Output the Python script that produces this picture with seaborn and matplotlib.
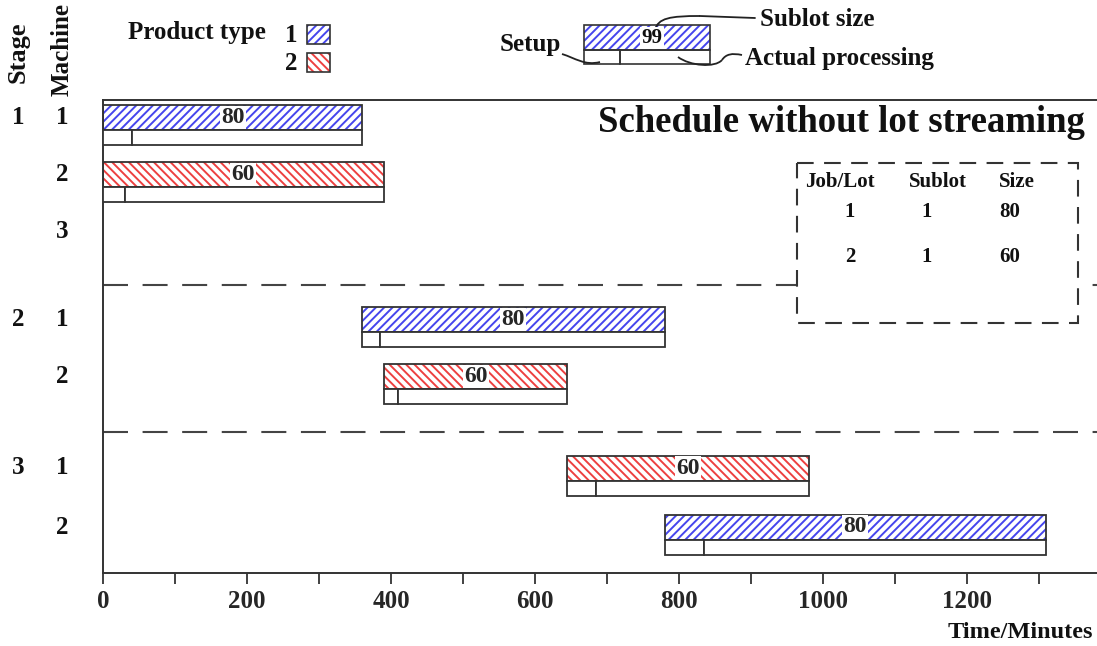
import numpy as np
import matplotlib
matplotlib.use("Agg")
import matplotlib.pyplot as plt
from matplotlib.patches import Rectangle, PathPatch
from matplotlib.path import Path
import seaborn as sns

# ---------------- data ----------------
stages = [1, 1, 2, 2, 3, 3]
machines = [1, 2, 1, 2, 1, 2]
products = [1, 2, 1, 2, 2, 1]
starts = [0, 0, 360, 390, 645, 780]
setup_ends = [40, 30, 385, 410, 685, 835]
ends = [360, 390, 780, 645, 980, 1310]
sizes = [80, 60, 80, 60, 60, 80]

table_jobs = [1, 2]
table_sublots = [1, 1]
table_sizes = [80, 60]

xticks = list(range(0, 1400, 100))
xtick_labels = [str(t) if t % 200 == 0 else "" for t in xticks]

# ---------------- style ----------------
sns.set_theme(style="white")
plt.rcParams["font.family"] = ["Liberation Serif", "DejaVu Serif"]
plt.rcParams["font.weight"] = "bold"
plt.rcParams["hatch.linewidth"] = 1.4

W, H = 1097, 646
fig = plt.figure(figsize=(W / 100, H / 100), dpi=100)

# layout (pixel based)
ax_left, ax_right, ax_top, ax_bot = 103, 1097, 100, 573
ax = fig.add_axes([ax_left / W, 1 - ax_bot / H, (ax_right - ax_left) / W, (ax_bot - ax_top) / H])
ax.set_xlim(0, (ax_right - ax_left) / 0.72)
ax.set_ylim(ax_bot, ax_top)

row_center = {(1, 1): 117.5, (1, 2): 174.5, (1, 3): 231, (2, 1): 319.5, (2, 2): 376.5, (3, 1): 468, (3, 2): 527}
hatch_h, white_h = 25, 15
pcolor = {1: (0.27, 0.27, 0.93), 2: (0.93, 0.25, 0.25)}
phatch = {1: "////", 2: "\\\\\\\\"}

for s, m, p, st, se, en, sz in zip(stages, machines, products, starts, setup_ends, ends, sizes):
    yc = row_center[(s, m)]
    # hatched sublot bar
    ax.barh(yc, en - st, left=st, height=hatch_h, color="white", edgecolor=pcolor[p],
            hatch=phatch[p], linewidth=0, zorder=2)
    ax.barh(yc, en - st, left=st, height=hatch_h, fill=False, edgecolor="#333333",
            linewidth=1.3, zorder=3)
    # setup + processing
    yw = yc + hatch_h / 2 + white_h / 2
    ax.barh(yw, se - st, left=st, height=white_h, color="white", edgecolor="#333333", linewidth=1.3, zorder=3)
    ax.barh(yw, en - se, left=se, height=white_h, color="white", edgecolor="#333333", linewidth=1.3, zorder=3)
    ax.text((st + en) / 2, yc, str(sz), ha="center", va="center", fontsize=17, fontweight="bold",
            zorder=4, bbox=dict(boxstyle="square,pad=0.05", fc="white", ec="none"))

# separators
for ysep in (285, 432):
    ax.axhline(ysep, color="#444444", lw=1.5, dashes=(12, 7), zorder=1)

ax.set_xticks(xticks)
ax.set_xticklabels(xtick_labels, fontsize=18, fontweight="bold")
ax.set_yticks([])
ax.tick_params(axis="x", direction="out", length=8, width=1.3, color="#333333", pad=4, bottom=True)
for side in ("left", "top", "bottom"):
    ax.spines[side].set_visible(True)
    ax.spines[side].set_color("#333333")
    ax.spines[side].set_linewidth(1.4)
ax.spines["right"].set_visible(False)
ax.grid(False)

# ---------------- overlay (pixel coordinates) ----------------
ov = fig.add_axes([0, 0, 1, 1], facecolor="none")
ov.set_xlim(0, W)
ov.set_ylim(H, 0)
ov.axis("off")

bold = dict(fontweight="bold", color="#111111")
ov.text(18, 52, "Stage", rotation=90, ha="center", va="center", fontsize=19, **bold)
ov.text(62, 50, "Machine", rotation=90, ha="center", va="center", fontsize=18, **bold)
for (s, m), yc in row_center.items():
    if m == 1:
        ov.text(18, yc, str(s), ha="center", va="center", fontsize=18, **bold)
    ov.text(62, yc, str(m), ha="center", va="center", fontsize=18, **bold)

# product type legend
ov.text(128, 32, "Product type", ha="left", va="center", fontsize=18, **bold)
for p, y0 in ((1, 25), (2, 53)):
    ov.text(291, y0 + 10, str(p), ha="center", va="center", fontsize=18, **bold)
    ov.add_patch(Rectangle((307, y0), 23, 19, fc="white", ec=pcolor[p], hatch=phatch[p], lw=0))
    ov.add_patch(Rectangle((307, y0), 23, 19, fill=False, ec="#333333", lw=1.2))

# bar anatomy legend
ov.add_patch(Rectangle((584, 25), 126, 25, fc="white", ec=pcolor[1], hatch=phatch[1], lw=0))
ov.add_patch(Rectangle((584, 25), 126, 25, fill=False, ec="#333333", lw=1.2))
ov.add_patch(Rectangle((584, 50), 36, 14, fill=False, ec="#333333", lw=1.2))
ov.add_patch(Rectangle((620, 50), 90, 14, fill=False, ec="#333333", lw=1.2))
ov.text(652, 38, "99", ha="center", va="center", fontsize=15, **bold,
        bbox=dict(boxstyle="square,pad=0.05", fc="white", ec="none"))
ov.text(760, 19, "Sublot size", ha="left", va="center", fontsize=18, **bold)
ov.text(500, 45, "Setup", ha="left", va="center", fontsize=18, **bold)
ov.text(745, 58, "Actual processing", ha="left", va="center", fontsize=18, **bold)

def curve(pts):
    codes = [Path.MOVETO] + [Path.CURVE4] * (len(pts) - 1)
    ov.add_patch(PathPatch(Path(pts, codes), fc="none", ec="#222222", lw=1.3))

curve([(655, 30), (658, 18), (670, 16), (700, 16)])
ov.plot([700, 755], [16, 18], color="#222222", lw=1.3)
curve([(562, 54), (575, 58), (585, 66), (600, 62)])
curve([(678, 57), (690, 66), (715, 68), (722, 60)])
curve([(722, 60), (726, 54), (732, 53), (742, 55)])

# title
ov.text(1085, 122, "Schedule without lot streaming", ha="right", va="center", fontsize=26.5, **bold)

# dashed info box
box = Rectangle((797, 163), 281, 160, fc="white", ec="#333333", lw=1.5, zorder=5)
box.set_linestyle((0, (8, 5)))
ov.add_patch(box)
for x, t in ((840, "Job/Lot"), (938, "Sublot"), (1017, "Size")):
    ov.text(x, 182, t, ha="center", va="center", fontsize=15, zorder=6, **bold)
for i, (j, sl, sz) in enumerate(zip(table_jobs, table_sublots, table_sizes)):
    y = 212 + 45 * i
    ov.text(850, y, str(j), ha="center", va="center", fontsize=15, zorder=6, **bold)
    ov.text(927, y, str(sl), ha="center", va="center", fontsize=15, zorder=6, **bold)
    ov.text(1010, y, str(sz), ha="center", va="center", fontsize=15, zorder=6, **bold)

ov.text(1093, 632, "Time/Minutes", ha="right", va="center", fontsize=17.5, **bold)

fig.savefig("out.png", dpi=100)
